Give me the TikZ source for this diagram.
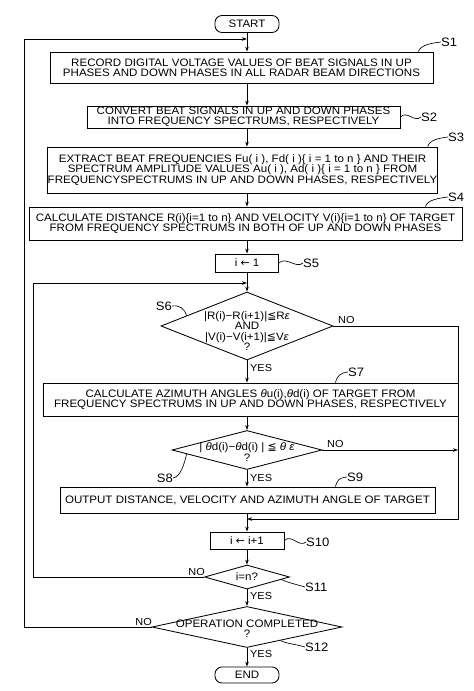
\documentclass[tikz,border=0pt]{standalone}
\usepackage{fontspec}
\setmainfont{Liberation Sans}[FakeStretch=1.07]
\newfontfamily\symf{DejaVu Sans}
\usetikzlibrary{arrows.meta,shapes.geometric,calc}
\newcommand{\myleq}{{\symf ≦}}
\newcommand{\mylarr}{{\symf ←}}
\begin{document}
\begin{tikzpicture}[x=1pt,y=-1pt,
  every node/.style={font=\fontsize{10.8}{10.4}\selectfont},
  box/.style={draw,line width=0.85pt,inner sep=0pt,align=center},
  term/.style={draw,line width=0.85pt,rounded corners=7pt,inner sep=0pt},
  dia/.style={draw,diamond,line width=0.85pt,inner sep=0pt},
  dtext/.style={align=center,inner sep=0pt},
  lbl/.style={font=\fontsize{12.2}{12}\selectfont,inner sep=0pt},
  elbl/.style={font=\fontsize{10.2}{10}\selectfont,inner sep=0pt},
  arr/.style={line width=0.75pt,-{Stealth[length=5pt,width=3.5pt]}},
  lead/.style={line width=0.65pt}]
\path[use as bounding box,fill=white] (0,0) rectangle (474,691);

% nodes
\node[term,minimum width=64,minimum height=17] (start) at (247,24) {START};
\node[box,minimum width=383,minimum height=31] (s1) at (241.5,67.5)
  {RECORD DIGITAL VOLTAGE VALUES OF BEAT SIGNALS IN UP\\PHASES AND DOWN PHASES IN ALL RADAR BEAM DIRECTIONS};
\node[box,minimum width=313,minimum height=22] (s2) at (243.5,117)
  {CONVERT BEAT SIGNALS IN UP AND DOWN PHASES\\INTO FREQUENCY SPECTRUMS, RESPECTIVELY};
\node[box,minimum width=383,minimum height=46] (s3) at (242.5,170)
  {EXTRACT BEAT FREQUENCIES Fu( i ), Fd( i )\{ i = 1 to n \} AND THEIR\\SPECTRUM AMPLITUDE VALUES Au( i ), Ad( i )\{ i = 1 to n \} FROM\\FREQUENCYSPECTRUMS IN UP AND DOWN PHASES, RESPECTIVELY};
\node[box,minimum width=433,minimum height=33] (s4) at (245.5,223.5)
  {CALCULATE DISTANCE R(i)\{i=1 to n\} AND VELOCITY V(i)\{i=1 to n\} OF TARGET\\FROM FREQUENCY SPECTRUMS IN BOTH OF UP AND DOWN PHASES};
\node[box,minimum width=63,minimum height=18] (s5) at (247,263) {i \mylarr\ 1};
\node[dia,minimum width=172,minimum height=68] (s6) at (247,326) {};
\node[dtext] (s6t) at (247,331) {|R(i)−R(i+1)|\myleq R\textit{ε}\\AND\\|V(i)−V(i+1)|\myleq V\textit{ε}\\?};
\node[box,minimum width=415,minimum height=33] (s7) at (250.5,399.5)
  {CALCULATE AZIMUTH ANGLES \textit{θ}u(i),\textit{θ}d(i) OF TARGET FROM\\FREQUENCY SPECTRUMS IN UP AND DOWN PHASES, RESPECTIVELY};
\node[dia,minimum width=150,minimum height=39] (s8) at (247,450) {};
\node[dtext] (s8t) at (247,452) {| \textit{θ}d(i)−\textit{θ}d(i) | \myleq\ \textit{θ ε}\\?};
\node[box,minimum width=375,minimum height=26] (s9) at (247.5,500)
  {OUTPUT DISTANCE, VELOCITY AND AZIMUTH ANGLE OF TARGET};
\node[box,minimum width=74,minimum height=17] (s10) at (247,540.5) {i \mylarr\ i+1};
\node[dia,minimum width=85,minimum height=24] (s11) at (247,577) {};
\node[dtext] (s11t) at (247,577) {i=n?};
\node[dia,minimum width=190,minimum height=41] (s12) at (247,627) {};
\node[dtext] (s12t) at (247,629) {OPERATION COMPLETED\\?};
\node[term,minimum width=64,minimum height=16] (end) at (247,675) {END};

% junction coordinates
\coordinate (j1) at (247,39);
\coordinate (oL) at (24,39);
\coordinate (j2) at (247,283);
\coordinate (iL) at (33,283);
\coordinate (j3) at (247,519);
\coordinate (rR) at (458,519);
\coordinate (r8) at (458,450);

% main flow
\draw[arr] (start.south) -- (start.south |- s1.north);
\draw[arr] (s1.south -| start) -- (s2.north -| start);
\draw[arr] (s2.south -| start) -- (s3.north -| start);
\draw[arr] (s3.south -| start) -- (s4.north -| start);
\draw[arr] (s4.south -| start) -- (s5.north);
\draw[arr] (s5.south) -- (s6.north);
\draw[arr] (s6.south) -- (s6.south |- s7.north);
\draw[arr] (s7.south -| s8) -- (s8.north);
\draw[arr] (s8.south) -- (s8.south |- s9.north);
\draw[arr] (s9.south -| s10) -- (s10.north);
\draw[arr] (s10.south) -- (s11.north);
\draw[arr] (s11.south) -- (s12.north);
\draw[arr] (s12.south) -- (end.north);

% loops
\draw[arr] (s12.west) -| (oL) -- (j1);
\draw[arr] (s11.west) -| (iL) -- (j2);
\draw[arr] (s6.east) -| (rR) -- (j3);
\draw[arr] (s8.east) -- (r8);

% edge labels
\node[elbl,anchor=south west] (no6) at (338,324) {NO};
\node[elbl,anchor=west] (yes6) at (250,368) {YES};
\node[elbl,anchor=south west] (no8) at (327,448) {NO};
\node[elbl,anchor=west] (yes8) at (250,478) {YES};
\node[elbl,anchor=south east] (no11) at (205,576) {NO};
\node[elbl,anchor=west] (yes11) at (250,596) {YES};
\node[elbl,anchor=south east] (no12) at (152,626) {NO};
\node[elbl,anchor=west] (yes12) at (250,654) {YES};

% step labels with leaders
\node[lbl,anchor=west] (l1) at (441,42) {S1};
\draw[lead] ($(s1.north east)+(-15,0)$) .. controls +(2,-7) and +(-8,1) .. (l1.west);
\node[lbl,anchor=west] (l2) at (421,117) {S2};
\draw[lead] (s2.east) .. controls +(7,-7) and +(-7,6) .. (l2.west);
\node[lbl,anchor=west] (l3) at (448,137) {S3};
\draw[lead] ($(s3.north east)+(-10,0)$) .. controls +(2,-7) and +(-8,1) .. (l3.west);
\node[lbl,anchor=west] (l4) at (448,197) {S4};
\draw[lead] ($(s4.north east)+(-37,0)$) .. controls +(2,-7) and +(-8,1) .. (l4.west);
\node[lbl,anchor=west] (l5) at (303,263) {S5};
\draw[lead] (s5.east) .. controls +(7,-7) and +(-7,6) .. (l5.west);
\node[lbl,anchor=east] (l6) at (172,306) {S6};
\draw[lead] (l6.east) .. controls +(8,-1) and +(-2,-7) .. ($(s6.west)!0.3!(s6.north)$);
\node[lbl,anchor=west] (l7) at (348,372) {S7};
\draw[lead] ($(s7.north east)+(-123,0)$) .. controls +(2,-7) and +(-8,1) .. (l7.west);
\node[lbl,anchor=east] (l8) at (173,478) {S8};
\draw[lead] (l8.east) .. controls +(8,-1) and +(-2,8) .. ($(s8.west)!0.2!(s8.south)$);
\node[lbl,anchor=west] (l9) at (347,477) {S9};
\draw[lead] ($(s9.north east)+(-100,0)$) .. controls +(2,-7) and +(-8,1) .. (l9.west);
\node[lbl,anchor=west] (l10) at (306,542) {S10};
\draw[lead] (s10.east) .. controls +(7,-7) and +(-7,6) .. (l10.west);
\node[lbl,anchor=west] (l11) at (305,587) {S11};
\draw[lead] ($(s11.east)!0.2!(s11.south)$) .. controls +(6,3) and +(-10,-3) .. (l11.west);
\node[lbl,anchor=west] (l12) at (305,647) {S12};
\draw[lead] ($(s12.east)!0.65!(s12.south)$) .. controls +(6,3) and +(-10,-3) .. (l12.west);
\end{tikzpicture}
\end{document}
